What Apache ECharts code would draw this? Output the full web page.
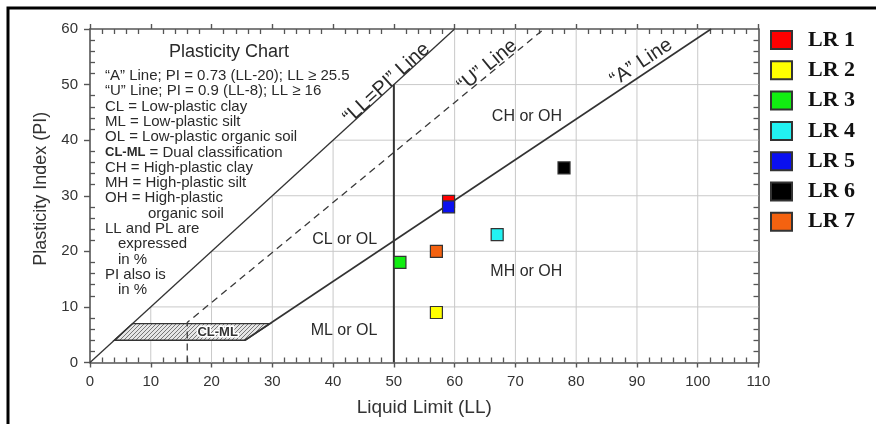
<!DOCTYPE html>
<html><head><meta charset="utf-8">
<script src="https://cdn.jsdelivr.net/npm/echarts@6/dist/echarts.min.js"></script>
<style>html,body{margin:0;padding:0;background:#fff}#c{width:876px;height:424px}</style>
</head><body><div id="c"></div>
<script>
// ---------- data ----------
const xTicks = [0, 10, 20, 30, 40, 50, 60, 70, 80, 90, 100, 110];
const yTicks = [0, 10, 20, 30, 40, 50, 60];
const sampleNames = ['LR 1', 'LR 2', 'LR 3', 'LR 4', 'LR 5', 'LR 6', 'LR 7'];
const sampleLL = [59, 57, 51, 67, 59, 78, 57];
const samplePI = [29, 9, 18, 23, 28, 35, 20];
const sampleColors = ['#ff0000', '#ffff00', '#11ee11', '#22f2f2', '#0a10f0', '#000000', '#f46210'];
const llEqualsPiLine = [[0, 0], [60, 60]];
const uLine = [[16, 0], [16, 7.2], [74.7, 60]];
const aLine = [[25.5, 4], [102.2, 60]];
const ll50Line = [[50, 0], [50, 50]];
const clmlZone = [[4, 4], [25.5, 4], [29.6, 7], [7, 7]];
const regionLabels = ['CH or OH', 'CL or OL', 'ML or OL', 'MH or OH'];
const regionPos = [[71.9, 44.3], [41.9, 22.2], [41.8, 5.7], [71.8, 16.3]];
const lineLabels = ['“LL=PI” Line', '“U” Line', '“A” Line'];
const lineLabelPos = [[48.8, 50.2], [65.4, 53.4], [90.7, 54.0]];
const clmlLabelPos = [21.0, 5.5];
const noteTitle = 'Plasticity Chart';
const noteText = [
  '“A” Line; PI = 0.73 (LL-20); LL ≥ 25.5',
  '“U” Line; PI = 0.9 (LL-8); LL ≥ 16',
  'CL = Low-plastic clay',
  'ML = Low-plastic silt',
  'OL = Low-plastic organic soil',
  '{b|CL-ML} = Dual classification',
  'CH = High-plastic clay',
  'MH = High-plastic silt',
  'OH = High-plastic',
  'organic soil',
  'LL and PL are',
  'expressed',
  'in %',
  'PI also is',
  'in %'
];
const noteIndent = [0, 0, 0, 0, 0, 0, 0, 0, 0, 2, 0, 1, 1, 0, 1];

// ---------- helpers ----------
const SANS = '"Liberation Sans", Arial, Helvetica, sans-serif';
const AX = '#555555';
const pc = document.createElement('canvas');
pc.width = 4; pc.height = 4;
(function () {
  const g = pc.getContext('2d');
  g.fillStyle = '#e6e6e6'; g.fillRect(0, 0, 4, 4);
  g.strokeStyle = '#777777'; g.lineWidth = 1;
  g.beginPath();
  g.moveTo(-1, 5); g.lineTo(5, -1);
  g.moveTo(-1, 1); g.lineTo(1, -1);
  g.moveTo(3, 5); g.lineTo(5, 3);
  g.stroke();
})();

const gridSegs = [];
xTicks.slice(1, -1).forEach(x => gridSegs.push([x, 0, x, Math.min(x, yTicks[yTicks.length - 1])]));
yTicks.slice(1, -1).forEach(y => gridSegs.push([y, y, xTicks[xTicks.length - 1], y]));

const lineRefs = [llEqualsPiLine, uLine.slice(1), aLine];

function baseX(pos, extra) {
  return Object.assign({
    type: 'value', min: 0, max: 110, interval: 10, position: pos,
    axisLine: { show: false, onZero: false, lineStyle: { color: AX, width: 1.6 } },
    axisTick: { show: false },
    axisLabel: { show: false },
    splitLine: { show: false },
    minorTick: { show: false }
  }, extra);
}
function baseY(pos, extra) {
  return Object.assign({
    type: 'value', min: 0, max: 60, interval: 10, position: pos,
    axisLine: { show: false, onZero: false, lineStyle: { color: AX, width: 1.6 } },
    axisTick: { show: false },
    axisLabel: { show: false },
    splitLine: { show: false },
    minorTick: { show: false }
  }, extra);
}
const minorInside = { show: true, splitNumber: 5, length: 5, lineStyle: { color: AX, width: 1.3 } };

const graphics = [
  { type: 'rect', silent: true, shape: { x: 8, y: 8, width: 1200, height: 1200 },
    style: { fill: 'none', stroke: '#000', lineWidth: 3 }, z: 100 },
  { type: 'text', x: 229, y: 52.5, silent: true,
    style: { text: noteTitle, font: '18px ' + SANS, fill: '#2a2a2a', align: 'center', verticalAlign: 'middle' } }
];
noteText.forEach((t, i) => {
  graphics.push({
    type: 'text', silent: true,
    x: 105 + [0, 13, 43][noteIndent[i]], y: 76 + 15.29 * i,
    style: {
      text: t, font: '15px ' + SANS, fill: '#2a2a2a', verticalAlign: 'middle', align: 'left',
      rich: { b: { fontWeight: 'bold', fontSize: 13, fontFamily: SANS, fill: '#2a2a2a' } }
    }
  });
});

const series = [
  {
    type: 'custom', name: 'grid', silent: true, z: 1,
    data: gridSegs, encode: { x: [0, 2], y: [1, 3] },
    renderItem: (p, api) => {
      const a = api.coord([api.value(0), api.value(1)]);
      const b = api.coord([api.value(2), api.value(3)]);
      return { type: 'line', shape: { x1: a[0], y1: a[1], x2: b[0], y2: b[1] },
        style: { stroke: '#c9c9c9', lineWidth: 1 } };
    }
  },
  {
    type: 'custom', name: 'CL-ML zone', silent: true, z: 2,
    data: [clmlZone.flat()], encode: { x: [0, 2, 4, 6], y: [1, 3, 5, 7] },
    renderItem: (p, api) => {
      const pts = [];
      for (let k = 0; k < 4; k++) pts.push(api.coord([api.value(2 * k), api.value(2 * k + 1)]));
      return { type: 'polygon', shape: { points: pts },
        style: { fill: { image: pc, repeat: 'repeat' }, stroke: '#333', lineWidth: 1.4 } };
    }
  },
  { type: 'line', name: 'LL=PI', data: llEqualsPiLine, symbol: 'none', silent: true, z: 3, lineStyle: { color: '#333', width: 1.3 } },
  { type: 'line', name: 'U', data: uLine, symbol: 'none', silent: true, z: 3, lineStyle: { color: '#3a3a3a', width: 1.3, type: [7, 5] } },
  { type: 'line', name: 'A', data: aLine, symbol: 'none', silent: true, z: 3, lineStyle: { color: '#333', width: 1.6 } },
  { type: 'line', name: 'LL50', data: ll50Line, symbol: 'none', silent: true, z: 3, lineStyle: { color: '#333', width: 2 } },
  {
    type: 'custom', name: 'region labels', silent: true, z: 4,
    data: regionPos,
    renderItem: (p, api) => {
      const c = api.coord([api.value(0), api.value(1)]);
      return { type: 'text', x: c[0], y: c[1],
        style: { text: regionLabels[p.dataIndex], font: '16px ' + SANS, fill: '#2a2a2a', align: 'center', verticalAlign: 'middle' } };
    }
  },
  {
    type: 'custom', name: 'line labels', silent: true, z: 4,
    data: lineLabelPos,
    renderItem: (p, api) => {
      const c = api.coord([api.value(0), api.value(1)]);
      const ref = lineRefs[p.dataIndex];
      const a = api.coord(ref[0]), b = api.coord(ref[ref.length - 1]);
      const ang = Math.atan2(a[1] - b[1], b[0] - a[0]);
      return { type: 'text', x: c[0], y: c[1], rotation: ang,
        style: { text: lineLabels[p.dataIndex], font: '20px ' + SANS, fill: '#2a2a2a', align: 'center', verticalAlign: 'middle' } };
    }
  },
  {
    type: 'custom', name: 'CL-ML label', silent: true, z: 4,
    data: [clmlLabelPos],
    renderItem: (p, api) => {
      const c = api.coord([api.value(0), api.value(1)]);
      return { type: 'text', x: c[0], y: c[1],
        style: { text: 'CL-ML', font: 'bold 13px ' + SANS, fill: '#333', stroke: '#fff', lineWidth: 3, strokeFirst: true,
          align: 'center', verticalAlign: 'middle' } };
    }
  }
];
sampleNames.forEach((n, i) => {
  series.push({
    type: 'scatter', name: n, data: [[sampleLL[i], samplePI[i]]],
    symbol: 'rect', symbolSize: 12, z: 10,
    itemStyle: { color: sampleColors[i], borderColor: '#333', borderWidth: 1.2, opacity: 1 }
  });
});

const chart = echarts.init(document.getElementById('c'), null, { renderer: 'canvas' });
chart.setOption({
  animation: false,
  backgroundColor: '#fff',
  grid: { left: 90, right: 117.5, top: 29, bottom: 61.5, containLabel: false, outerBoundsMode: 'none' },
  legend: {
    data: sampleNames, orient: 'vertical', left: 770, top: 29, padding: 0,
    icon: 'rect', itemWidth: 21, itemHeight: 18, itemGap: 8.3, selectedMode: false,
    textStyle: { fontFamily: '"Liberation Serif", "Times New Roman", serif', fontWeight: 'bold', fontSize: 22,
      color: '#111', lineHeight: 18, padding: [0, 0, 0, 11] }
  },
  xAxis: [
    baseX('bottom', {
      axisLine: { show: true, onZero: false, lineStyle: { color: AX, width: 1.6 } },
      axisTick: { show: true, inside: false, length: 5, lineStyle: { color: AX, width: 1.4 } },
      axisLabel: { show: true, margin: 12, fontSize: 15, fontFamily: SANS, color: '#333' },
      name: 'Liquid Limit (LL)', nameLocation: 'middle', nameGap: 36,
      nameTextStyle: { fontSize: 19, fontFamily: SANS, color: '#333' }
    }),
    baseX('bottom', { axisTick: { show: false, inside: true }, minorTick: minorInside }),
    baseX('top', {
      axisLine: { show: true, onZero: false, lineStyle: { color: AX, width: 1.6 } },
      axisTick: { show: true, inside: false, length: 5, lineStyle: { color: AX, width: 1.4 } }
    }),
    baseX('top', { axisTick: { show: false, inside: true }, minorTick: minorInside })
  ],
  yAxis: [
    baseY('left', {
      axisLine: { show: true, onZero: false, lineStyle: { color: AX, width: 1.6 } },
      axisTick: { show: true, inside: false, length: 6, lineStyle: { color: AX, width: 1.4 } },
      axisLabel: { show: true, margin: 12, fontSize: 15, fontFamily: SANS, color: '#333' },
      name: 'Plasticity Index (PI)', nameLocation: 'middle', nameGap: 36,
      nameTextStyle: { fontSize: 18, fontFamily: SANS, color: '#333', padding: [0, 0, 0, 14] }
    }),
    baseY('left', { axisTick: { show: false, inside: true }, minorTick: minorInside }),
    baseY('right', {
      axisLine: { show: true, onZero: false, lineStyle: { color: AX, width: 1.6 } },
      axisTick: { show: false, inside: true }, minorTick: minorInside
    })
  ],
  graphic: graphics,
  series: series
});
</script>
</body></html>
